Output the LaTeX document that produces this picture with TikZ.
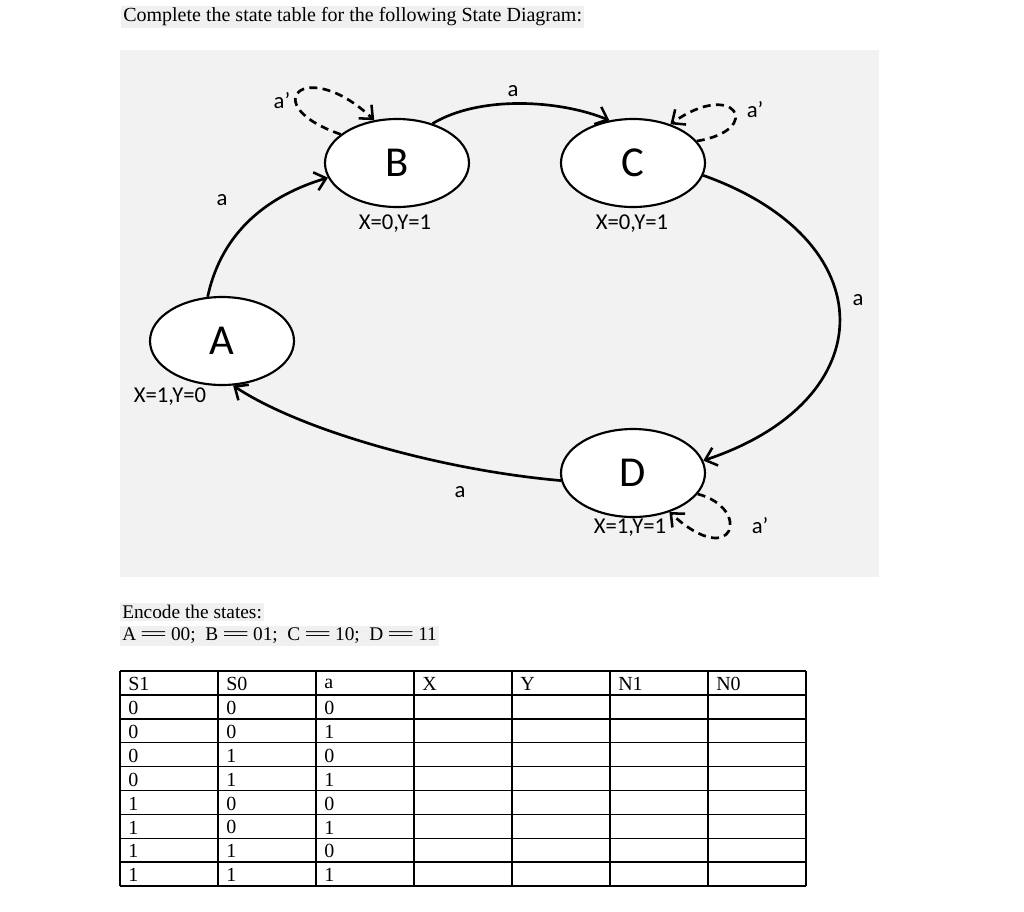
\documentclass[tikz,border=0pt]{standalone}
\usepackage{fontspec}
\setmainfont{Liberation Serif}
\newfontfamily\diagfont{Carlito}
\usetikzlibrary{shapes.geometric,arrows.meta,positioning}
\newcommand\wideeq{\,\scalebox{2.6}[1]{=}\,}
\tikzset{
  state/.style={draw=black, line width=1.6pt, fill=white, ellipse, minimum width=108pt, minimum height=66pt, inner sep=0pt, font=\diagfont\fontsize{32}{36}\selectfont},
  trans/.style={-{Straight Barb[length=8pt,width=14pt,line width=1.9pt]}, line width=2pt},
  selfloop/.style={trans, dash pattern=on 6pt off 4pt},
  lbl/.style={font=\diagfont\fontsize{17}{20}\selectfont},
  hilite/.style={fill=black!6, inner sep=1.5pt, anchor=west},
  cell/.style={anchor=west, inner sep=0pt, font=\fontsize{15}{17}\selectfont},
  grid/.style={line width=1.1pt}
}

\begin{document}
\begin{tikzpicture}[x=0.75pt,y=-0.75pt]
  \useasboundingbox (0,0) rectangle (1024,911);
  \fill[white] (0,0) rectangle (1024,911);
  \node[hilite, font=\fontsize{15}{17}\selectfont] (title) at (121,17) {Complete the state table for the following State Diagram:};
  % diagram panel
  \fill[black!5] (120,50) rectangle (879,577);
  \node[state] (A) at (222,341) {A};
  \node[state] (B) at (397,163) {B};
  \node[state] (C) at (633,163) {C};
  \node[state] (D) at (633,473) {D};
  \node[lbl] (outA) at (170,397) {X=1,Y=0};
  \node[lbl] (outB) at (395,224) {X=0,Y=1};
  \node[lbl] (outC) at (632,224) {X=0,Y=1};
  \node[lbl] (outD) at (630,528) {X=1,Y=1};
  % transitions
  \draw[trans] (A.108) .. controls (222,230) and (270,195) .. (B.192);
  \draw[trans] (B.48) .. controls (480,95) and (560,100) .. (C.119);
  \draw[trans] (C.-10) .. controls (885,240) and (885,400) .. (D.10);
  \draw[trans] (D.186) .. controls (440,470) and (300,430) .. (A.-76);
  \node[lbl] (tAB) at (222,200) {a};
  \node[lbl] (tBC) at (513,91) {a};
  \node[lbl] (tCD) at (858,300) {a};
  \node[lbl] (tDA) at (460,492) {a};
  % self loops
  \draw[selfloop] (B.153) .. controls (255,105) and (305,55) .. (B.118);
  \draw[selfloop] (C.19) .. controls (765,130) and (735,78) .. (C.46);
  \draw[selfloop] (D.-18) .. controls (752,508) and (735,572) .. (D.-47);
  \node[lbl] (lpB) at (282,101) {a’};
  \node[lbl] (lpC) at (755,110) {a’};
  \node[lbl] (lpD) at (760,526) {a’};
  % encoding
  \node[hilite, font=\fontsize{14.5}{16}\selectfont] (enc1) at (120,612) {Encode the states:};
  \node[hilite, font=\fontsize{14.5}{16}\selectfont] (enc2) at (120,636) {A\wideeq 00;\ \ B\wideeq 01;\ \ C\wideeq 10;\ \ D\wideeq 11};
  % state table
  \foreach \x in {120,218,...,806} \draw[grid] (\x,671) -- (\x,886);
  \foreach \r in {0,...,9} \draw[grid] (120,{671+23.9*\r}) -- (806,{671+23.9*\r});
  \foreach \h [count=\c from 0] in {S1,S0,a,X,Y,N1,N0}
    \node[cell] (h\c) at ({128+98*\c},684) {\h};
  \foreach \s/\t/\u [count=\r] in {0/0/0,0/0/1,0/1/0,0/1/1,1/0/0,1/0/1,1/1/0,1/1/1}{
    \node[cell] (s\r) at (128,{684+23.9*\r}) {\s};
    \node[cell] (t\r) at (226,{684+23.9*\r}) {\t};
    \node[cell] (u\r) at (324,{684+23.9*\r}) {\u};
  }
\end{tikzpicture}
\end{document}
